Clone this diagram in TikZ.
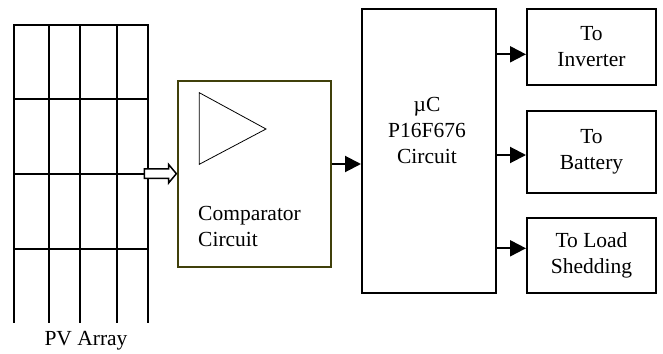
\documentclass[tikz,border=0pt]{standalone}
\usepackage{fontspec}
\setmainfont{Liberation Serif}
\usetikzlibrary{shapes}
\usetikzlibrary{arrows.meta}
\definecolor{cmpedge}{RGB}{64,64,10}
\tikzset{
  blocknode/.style = {align=center, inner sep=0pt, text centered,
    font=\fontsize{21.5}{26}\selectfont},
  box_node/.style = {blocknode, rectangle, draw=black, line width=2pt},% bloc
  out_node/.style = {box_node, minimum width=129pt},% sortie
  feed_arrow/.style = {line width=2pt, -{Triangle[length=16pt,width=16pt]}},
  grid_line/.style = {line width=2pt}
}
\begin{document}
\begin{tikzpicture}[x=1pt, y=-1pt]
      \useasboundingbox (0,0) rectangle (663,353);
      % panneau PV
      \foreach \xa in {14,49,80,117,148}
        \draw[grid_line] (\xa,24.7) -- (\xa,323);
      \foreach \ya in {24.7,99.3,174.3,249.3}
        \draw[grid_line] (13,\ya) -- (149,\ya);
      \node [blocknode] (pv) at (86,341) {PV Array};
      % comparateur
      \node [box_node, draw=cmpedge, minimum width=152.7pt, minimum height=186pt] (cmp) at (254.7,173.7) {};
      \draw[line width=0.8pt] (199.3,92.7) -- (266,129) -- (199.3,164.3) -- cycle;
      \node [blocknode, anchor=west, align=left] (cmptext) at (198,226.5) {Comparator\\Circuit};
      \node [single arrow, draw, fill=white, line width=1.5pt, inner sep=4pt, single arrow head extend=4.5pt,
        single arrow tip angle=100, minimum height=32pt, anchor=tip] (pvout) at (cmp.west) {};
      % microcontroleur
      \node [box_node, minimum width=134pt, minimum height=284pt] (mc) at (429,151) {};
      \node [blocknode] (mctext) at (427,130) {µC\\P16F676\\Circuit};
      % sorties
      \node [out_node, minimum height=76pt] (inv) at (591.5,47) {To\\Inverter};
      \node [out_node, minimum height=82pt] (bat) at (591.5,152) {To\\Battery};
      \node [out_node, minimum height=75pt] (load) at (591.5,255.5) {To Load\\Shedding};
      \coordinate (y0) at (0,164);
      \coordinate (y1) at (0,54.3);
      \coordinate (y2) at (0,155);
      \coordinate (y3) at (0,248.3);
      \draw[feed_arrow] (cmp.east |- y0) -- (mc.west |- y0);
      \draw[feed_arrow] (mc.east |- y1) -- (inv.west |- y1);
      \draw[feed_arrow] (mc.east |- y2) -- (bat.west |- y2);
      \draw[feed_arrow] (mc.east |- y3) -- (load.west |- y3);
\end{tikzpicture}
\end{document}
